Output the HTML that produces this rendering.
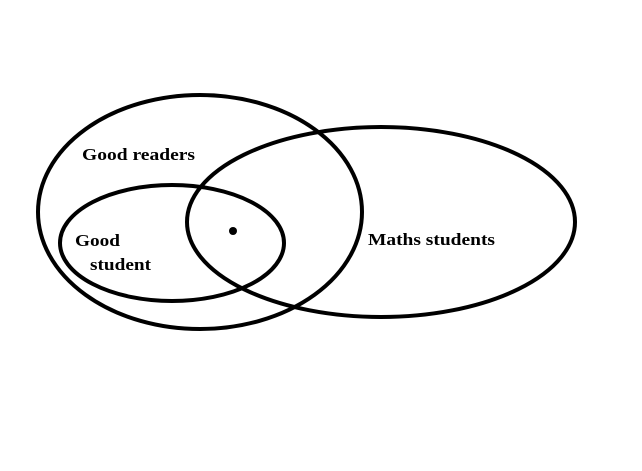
<!DOCTYPE html>
<html><head><style>html,body{margin:0;padding:0;background:#fff}</style></head>
<body>
<svg width="642" height="466" viewBox="0 0 642 466" xmlns="http://www.w3.org/2000/svg">
<rect width="642" height="466" fill="#fff"/>
<g fill="none" stroke="#000" stroke-width="4">
<ellipse cx="200" cy="212" rx="162" ry="117"/>
<ellipse cx="381" cy="222" rx="194" ry="95"/>
<ellipse cx="172" cy="243" rx="112" ry="58"/>
</g>
<circle cx="233" cy="231" r="4" fill="#000"/>
<g font-family="Liberation Serif, serif" font-weight="bold" font-size="17" fill="#000">
<text x="82" y="160" textLength="113" lengthAdjust="spacingAndGlyphs">Good readers</text>
<text x="75" y="246" textLength="45" lengthAdjust="spacingAndGlyphs">Good</text>
<text x="90" y="270" textLength="61" lengthAdjust="spacingAndGlyphs">student</text>
<text x="368" y="245" textLength="127" lengthAdjust="spacingAndGlyphs">Maths students</text>
</g>
</svg>
</body></html>
